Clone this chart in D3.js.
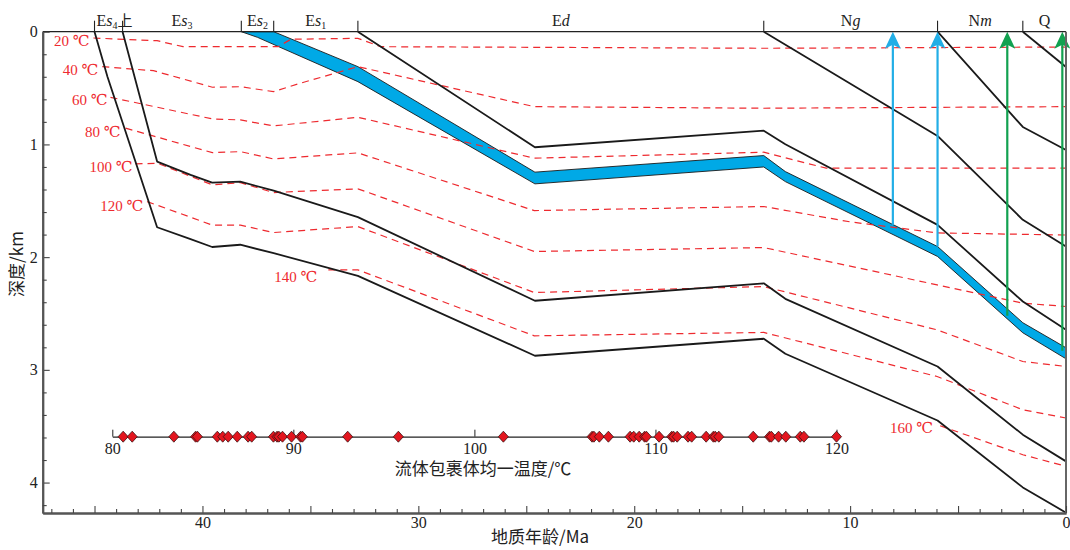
<!DOCTYPE html>
<html>
<head>
<meta charset="utf-8">
<script src="https://cdn.jsdelivr.net/npm/d3@7"></script>
<style>
body{margin:0;background:#fff;}
svg{display:block;font-family:"Liberation Serif","DejaVu Serif",serif;}
.cjk{font-family:"Noto Sans CJK SC","Noto Sans",sans-serif;}
</style>
</head>
<body>
<div class="canva"></div>
<script>
// stratigraphic units along the top (age of each boundary, Ma)
const unitBounds = [45.0, 43.7, 38.2, 36.7, 32.8, 14.0, 5.95, 2.0, 0];
const unitMain = ["E", "E", "E", "E", "E", "N", "N", "Q"];
const unitItal = ["s", "s", "s", "s", "d", "g", "m", ""];
const unitSub = ["4", "3", "2", "1", "", "", "", ""];
const unitTail = ["上", "", "", "", "", "", "", ""];

// burial curves: [age Ma, depth km]
const burEs4 = [[45.0,0],[44.4,0.40],[42.1,1.735],[40.55,1.84],[39.55,1.91],[38.25,1.89],[36.7,1.965],[32.8,2.166],[24.6,2.875],[14.0,2.724],[13.0,2.857],[5.95,3.449],[2.0,4.043],[0,4.267]];
const burEs3 = [[43.7,0],[42.1,1.152],[40.55,1.27],[39.55,1.339],[38.25,1.33],[36.7,1.41],[32.8,1.645],[24.6,2.387],[14.0,2.232],[13.0,2.37],[5.95,2.97],[2.0,3.575],[0,3.812]];
const burEs2 = [[38.2,0],[37.45,0.05],[32.8,0.443],[24.6,1.35],[14.0,1.2],[13.0,1.33],[5.95,1.994],[2.0,2.671],[0,2.902]];
const burEs1 = [[36.7,0],[32.8,0.31],[24.6,1.246],[14.0,1.099],[13.0,1.241],[5.95,1.906],[2.0,2.582],[0,2.804]];
const burEd = [[32.8,0],[24.6,1.025],[14.0,0.878],[13.0,0.998],[5.95,1.714],[2.0,2.394],[0,2.645]];
const burNg = [[14.0,0],[5.95,0.925],[2.0,1.669],[0,1.906]];
const burNm = [[5.95,0],[2.0,0.845],[0,1.049]];
const burQ = [[2.0,0],[0,0.313]];

// isotherms (°C) and their paths
const isoTemps = [20, 40, 60, 80, 100, 120, 140, 160];
const iso20 = [[45.05,0.056],[42.1,0.08],[40.9,0.133],[36.5,0.133],[35.9,0.067],[32.8,0.059],[31.75,0.133],[14.0,0.147],[0,0.136]];
const iso40 = [[44.64,0.31],[42.27,0.346],[39.54,0.493],[38.24,0.488],[36.71,0.532],[35.46,0.457],[32.8,0.31],[24.63,0.665],[14.0,0.679],[0,0.665]];
const iso60 = [[44.26,0.582],[39.54,0.774],[38.24,0.783],[36.71,0.836],[32.8,0.759],[24.63,1.122],[14.0,1.069],[11.11,1.211],[0,1.211]];
const iso80 = [[43.56,0.856],[39.54,1.073],[38.24,1.064],[36.71,1.129],[32.8,1.075],[24.63,1.587],[14.0,1.551],[10.0,1.687],[5.97,1.785],[0,1.804]];
const iso100 = [[43.1,1.173],[42.08,1.167],[39.54,1.359],[38.24,1.339],[36.71,1.427],[32.8,1.394],[24.63,1.95],[14.0,1.915],[5.97,2.246],[2.0,2.408],[0,2.438]];
const iso120 = [[42.56,1.507],[39.54,1.716],[38.24,1.716],[36.71,1.782],[32.8,1.729],[24.63,2.314],[14.0,2.261],[5.97,2.645],[2.0,2.926],[0,2.97]];
const iso140 = [[34.17,2.113],[32.8,2.113],[24.63,2.698],[14.0,2.668],[5.97,3.059],[2.0,3.354],[0,3.427]];
const iso160 = [[5.83,3.496],[2.0,3.753],[0,3.856]];
const isoLines = [iso20, iso40, iso60, iso80, iso100, iso120, iso140, iso160];

// charging arrows: age, start depth, colour group
const arrowAges = [8.02, 5.95, 2.72, 0.17];
const arrowDepths = [1.714, 1.906, 2.52, 2.83];
const arrowKinds = ["blue", "blue", "green", "green"];

// fluid inclusion homogenisation temperatures (°C)
const thValues = [80.6,81.1,83.4,84.6,84.7,85.8,86.1,86.4,86.9,87.5,87.7,88.9,89.1,89.2,89.4,89.9,90.4,90.5,93.0,95.8,
  101.6,106.5,106.6,106.9,107.4,108.6,108.8,109.1,109.4,109.5,110.2,110.9,111.0,111.2,111.8,112.0,112.8,113.2,113.3,113.5,
  115.4,116.3,116.4,116.8,117.2,118.0,118.2,120.0];
const thTicks = [80, 90, 100, 110, 120];
const ageTicks = [40, 30, 20, 10, 0];
const depthTicks = [0, 1, 2, 3, 4];

const W = 1070, H = 550;
const L = 42.7, R = 1066, T = 31.7, B = 513;

const svg = d3.select(".canva").append("svg")
.attr("width", W)
.attr("height", H);

const x = d3.scaleLinear().domain([47.4, 0]).range([L, R]);
const y = d3.scaleLinear().domain([0, 4.27]).range([T, B]);
const line = d3.line().x(d => x(d[0])).y(d => y(d[1]));

// Es2 reservoir band
svg.append("path")
.attr("d", line(burEs1.concat(burEs2.slice().reverse())) + "Z")
.attr("fill", "#00a9e6")
.attr("stroke", "#1a1a1a")
.attr("stroke-width", 0.9)
.attr("stroke-linejoin", "round");

// isotherms, label nudges in px
const red = "#ee2a2f";
const labelGap = [4, 4, 3, 5, 3, 4, 11, 7];
const labelDrop = [8, 8, 8, 9, 8, 9, 12, 7];
isoLines.forEach((pts, i) => {
  svg.append("path")
  .attr("d", line(pts))
  .attr("fill", "none")
  .attr("stroke", red)
  .attr("stroke-width", 1.2)
  .attr("stroke-dasharray", "7,5");
  svg.append("text")
  .text(isoTemps[i] + " ℃")
  .attr("x", x(pts[0][0]) - labelGap[i])
  .attr("y", y(pts[0][1]) + labelDrop[i])
  .attr("text-anchor", "end")
  .attr("fill", red)
  .attr("font-size", 15);
});

// burial lines
[burEs4, burEs3, burEd, burNg, burNm, burQ].forEach(pts => {
  svg.append("path")
  .attr("d", line(pts))
  .attr("fill", "none")
  .attr("stroke", "#1a1a1a")
  .attr("stroke-width", 1.8)
  .attr("stroke-linejoin", "round");
});

// arrows
const arrowCol = {blue: "#22aee6", green: "#12a150"};
arrowAges.forEach((a, i) => {
  const ax = x(a), top = y(0), col = arrowCol[arrowKinds[i]];
  svg.append("line")
  .attr("x1", ax).attr("x2", ax)
  .attr("y1", y(arrowDepths[i])).attr("y2", top + 12)
  .attr("stroke", col)
  .attr("stroke-width", 2.2);
  svg.append("path")
  .attr("d", `M${ax},${top}L${ax + 8},${top + 17}L${ax},${top + 13}L${ax - 8},${top + 17}Z`)
  .attr("fill", col);
});

// frame
svg.append("line").attr("x1", L).attr("x2", R).attr("y1", T).attr("y2", T)
.attr("stroke", "#222").attr("stroke-width", 1.3);
svg.append("line").attr("x1", R).attr("x2", R).attr("y1", T).attr("y2", B)
.attr("stroke", "#666").attr("stroke-width", 2);

// axes
const gx = svg.append("g").attr("transform", `translate(0,${B})`)
.call(d3.axisBottom(x).tickValues(ageTicks).tickSizeInner(-7).tickSizeOuter(0).tickPadding(4).tickFormat(d3.format("d")));
const gxm = svg.append("g").attr("transform", `translate(0,${B})`)
.call(d3.axisBottom(x).tickValues(d3.range(1, 48).filter(v => v % 10 !== 0))
  .tickSizeInner(0).tickSizeOuter(0).tickFormat(""));
gxm.selectAll(".tick line").attr("y2", d => d % 5 === 0 ? -7 : -4);
const gy = svg.append("g").attr("transform", `translate(${L},0)`)
.call(d3.axisLeft(y).tickValues(depthTicks).tickSizeInner(-7).tickSizeOuter(0).tickPadding(5).tickFormat(d3.format("d")));
const gym = svg.append("g").attr("transform", `translate(${L},0)`)
.call(d3.axisLeft(y).tickValues(d3.range(0.2, 4.25, 0.2).filter(v => Math.abs(v - Math.round(v)) > 0.05))
  .tickSizeInner(-4).tickSizeOuter(0).tickFormat(""));
[gx, gxm, gy, gym].forEach(g => {
  g.select(".domain").attr("stroke", "#555").attr("stroke-width", 2);
  g.selectAll(".tick line").attr("stroke", "#444").attr("stroke-width", 1.1);
  g.selectAll("text").attr("font-size", 16).attr("fill", "#222")
  .attr("font-family", "Liberation Serif, serif");
});

// unit boundary ticks and names on top
unitBounds.slice(0, -1).forEach(b => {
  svg.append("line").attr("x1", x(b)).attr("x2", x(b)).attr("y1", T).attr("y2", T - 11)
  .attr("stroke", "#222").attr("stroke-width", 1.1);
});
unitMain.forEach((m, i) => {
  const first = i === 0;
  const cx = first ? x(unitBounds[0]) + 2 : (x(unitBounds[i]) + x(unitBounds[i + 1])) / 2;
  const t = svg.append("text")
  .attr("x", cx).attr("y", T - 6)
  .attr("text-anchor", first ? "start" : "middle")
  .attr("font-size", 16).attr("fill", "#222");
  t.append("tspan").text(m);
  if (unitItal[i]) t.append("tspan").text(unitItal[i]).attr("font-style", "italic");
  if (unitSub[i]) t.append("tspan").text(unitSub[i]).attr("font-size", 10).attr("dy", 3);
  if (unitTail[i]) t.append("tspan").text(unitTail[i]).attr("dy", -3).attr("class", "cjk").attr("font-size", 15);
});

// axis titles
svg.append("text").text("地质年龄/Ma").attr("class", "cjk")
.attr("x", 540).attr("y", 543).attr("text-anchor", "middle")
.attr("font-size", 17).attr("fill", "#222");
svg.append("text").text("深度/km").attr("class", "cjk")
.attr("transform", "translate(23,264) rotate(-90)").attr("text-anchor", "middle")
.attr("font-size", 17).attr("fill", "#222");

// fluid inclusion strip
const th = d3.scaleLinear().domain([80, 120]).range([112.3, 836.5]);
const stripY = 436.7;
const gs = svg.append("g").attr("transform", `translate(0,${stripY})`)
.call(d3.axisBottom(th).tickValues(thTicks).tickSizeInner(-7).tickSizeOuter(0).tickPadding(6));
gs.select(".domain").attr("stroke", "#222").attr("stroke-width", 1.2);
gs.selectAll(".tick line").attr("stroke", "#222");
gs.selectAll("text").attr("font-size", 16).attr("fill", "#222").attr("font-family", "Liberation Serif, serif");

svg.selectAll(".th")
.data(thValues)
.enter().append("path")
.attr("class", "th")
.attr("d", "M0,-5.5L5,0L0,5.5L-5,0Z")
.attr("transform", d => `translate(${th(d)},${stripY})`)
.attr("fill", "#e3161f")
.attr("stroke", "#3b1212")
.attr("stroke-width", 0.8);

svg.append("text").text("流体包裹体均一温度/℃").attr("class", "cjk")
.attr("x", 483).attr("y", 475).attr("text-anchor", "middle")
.attr("font-size", 17).attr("fill", "#222");
</script>
</body>
</html>
